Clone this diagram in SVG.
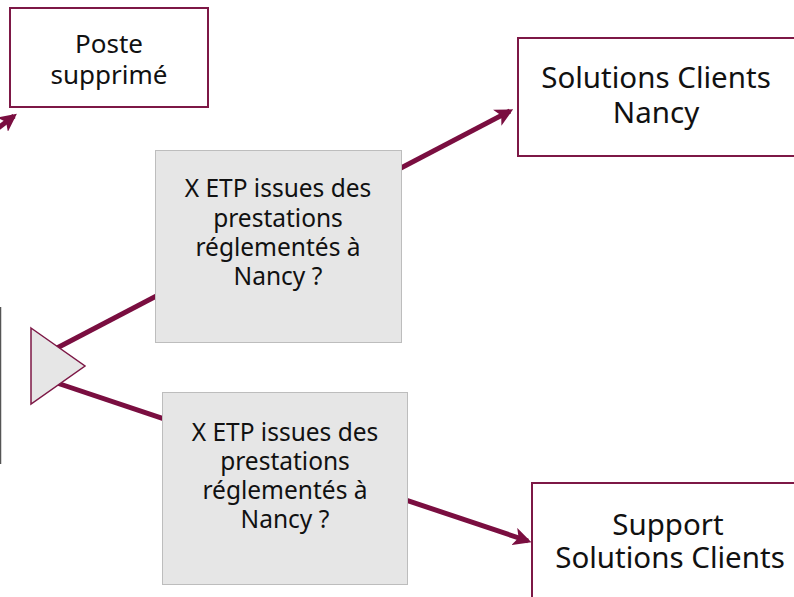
<svg xmlns="http://www.w3.org/2000/svg" width="794" height="597" viewBox="0 0 794 597">
  <style>
    .box { fill: #ffffff; stroke: #7d1846; stroke-width: 2; }
    .q { fill: #e6e6e6; stroke: #bdbdbd; stroke-width: 1; }
    .t { font-family: "Noto Sans", "Open Sans", sans-serif; fill: #111; text-anchor: middle; }
    .qt { font-size: 24.5px; }
    .bt { font-size: 29.5px; }
    .conn { stroke: #7a0e40; stroke-width: 5; fill: none; }
  </style>
  <defs>
    <marker id="arr" viewBox="0 0 10 10" refX="8" refY="5" markerWidth="3.6" markerHeight="3.6" orient="auto" markerUnits="strokeWidth">
      <path d="M0,0 L10,5 L0,10 L2.5,5 z" fill="#7a0e40"/>
    </marker>
  </defs>
  <rect width="794" height="597" fill="#ffffff"/>

  <!-- partially visible left frame edge -->
  <line x1="0.5" y1="307" x2="0.5" y2="464" stroke="#555" stroke-width="1.5"/>

  <!-- connectors (drawn beneath the question boxes) -->
  <g id="connectors">
    <line class="conn" x1="57" y1="348" x2="510" y2="111" marker-end="url(#arr)"/>
    <line class="conn" x1="57" y1="383" x2="528" y2="541" marker-end="url(#arr)"/>
    <line class="conn" x1="-10" y1="134" x2="14" y2="116" marker-end="url(#arr)"/>
  </g>

  <g id="decision">
    <polygon points="31,328 85,366 31,404" fill="#e6e6e6" stroke="#7d1846" stroke-width="1.5"/>
  </g>

  <g id="poste-supprime">
    <rect class="box" x="10" y="8" width="198" height="99"/>
    <text class="t" x="109" y="53" font-size="26">Poste</text>
    <text class="t" x="109" y="84" font-size="26">supprimé</text>
  </g>

  <g id="solutions-clients-nancy">
    <rect class="box" x="518" y="38" width="290" height="118"/>
    <text class="t bt" x="656" y="88">Solutions Clients</text>
    <text class="t bt" x="656" y="123">Nancy</text>
  </g>

  <g id="question-1">
    <rect class="q" x="155.5" y="150.5" width="246" height="192"/>
    <text class="t qt" x="278" y="197">X ETP issues des</text>
    <text class="t qt" x="278" y="227">prestations</text>
    <text class="t qt" x="278" y="256">réglementés à</text>
    <text class="t qt" x="278" y="285">Nancy ?</text>
  </g>

  <g id="question-2">
    <rect class="q" x="162.5" y="392.5" width="245" height="192"/>
    <text class="t qt" x="285" y="441">X ETP issues des</text>
    <text class="t qt" x="285" y="470">prestations</text>
    <text class="t qt" x="285" y="499">réglementés à</text>
    <text class="t qt" x="285" y="528">Nancy ?</text>
  </g>

  <g id="support-solutions-clients">
    <rect class="box" x="532" y="483" width="280" height="130"/>
    <text class="t bt" x="668" y="535">Support</text>
    <text class="t bt" x="670" y="568">Solutions Clients</text>
  </g>
</svg>
